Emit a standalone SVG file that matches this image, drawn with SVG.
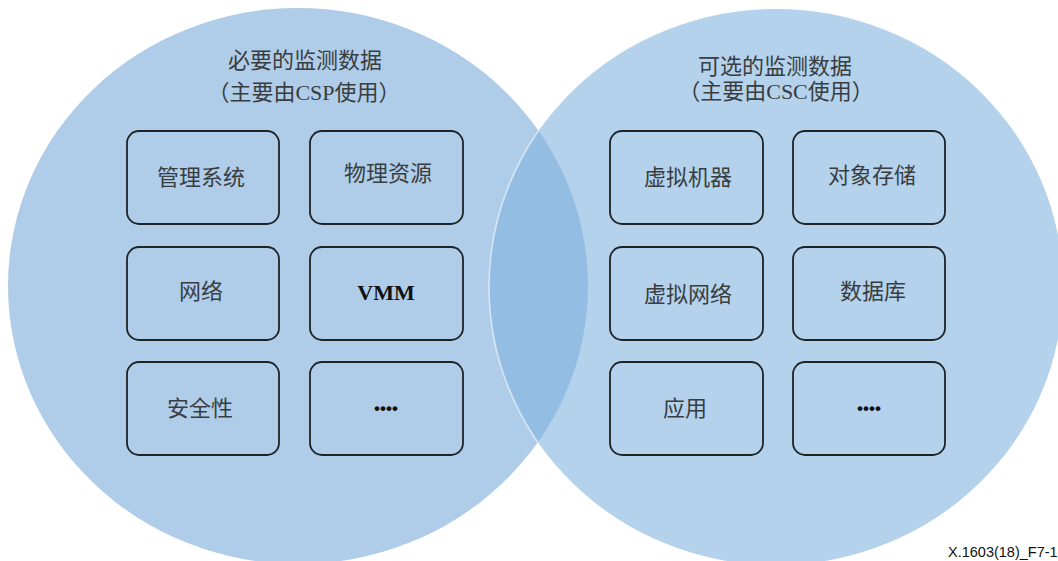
<svg xmlns="http://www.w3.org/2000/svg" width="1058" height="561" viewBox="0 0 1058 561">
<style>
.box{fill:none;stroke:#1f2326;stroke-width:1.8}
.t{font-family:"Liberation Serif","Noto Sans CJK SC",serif;font-size:22px;fill:#3a3d40;text-anchor:middle}
.h{font-family:"Liberation Serif","Noto Sans CJK SC",serif;font-size:22px;fill:#3a3d40;text-anchor:middle}
.b{font-family:"Liberation Serif","Noto Sans CJK SC",serif;font-size:22px;font-weight:bold;fill:#111;text-anchor:middle}
.d{font-family:"Liberation Sans",sans-serif;font-size:17px;font-weight:bold;fill:#111;text-anchor:middle}
</style>
<defs>
<clipPath id="leftClip"><ellipse cx="298" cy="286" rx="290" ry="278"/></clipPath>
</defs>
<g id="sets">
<ellipse id="left-set" cx="298" cy="286" rx="290" ry="278" fill="#AFCDE9"/>
<ellipse id="right-set" cx="776" cy="287" rx="287" ry="278" fill="#B4D2EC"/>
<ellipse cx="776" cy="287" rx="287" ry="278" fill="#94BDE3" clip-path="url(#leftClip)"/>
<ellipse cx="776" cy="287" rx="287" ry="278" fill="none" stroke="#ffffff" stroke-opacity="0.55" stroke-width="1.6" clip-path="url(#leftClip)"/>
</g>
<g id="titles">
<text class="h" x="305" y="68">必要的监测数据</text>
<text class="h" x="304" y="100">（主要由CSP使用）</text>
<text class="h" x="775" y="74">可选的监测数据</text>
<text class="h" x="776" y="99">（主要由CSC使用）</text>
</g>
<g id="n1"><rect class="box" x="127" y="131" width="152" height="93" rx="12"/><text class="t" x="201" y="185">管理系统</text></g>
<g id="n2"><rect class="box" x="310" y="131" width="153" height="93" rx="12"/><text class="t" x="388" y="181">物理资源</text></g>
<g id="n3"><rect class="box" x="127" y="247" width="152" height="93" rx="12"/><text class="t" x="201" y="299">网络</text></g>
<g id="n4"><rect class="box" x="310" y="247" width="153" height="93" rx="12"/><text class="b" x="386" y="300">VMM</text></g>
<g id="n5"><rect class="box" x="127" y="362" width="152" height="93" rx="12"/><text class="t" x="200" y="416">安全性</text></g>
<g id="n6"><rect class="box" x="310" y="362" width="153" height="93" rx="12"/><text class="d" x="386" y="414">••••</text></g>
<g id="n7"><rect class="box" x="610" y="131" width="153" height="93" rx="12"/><text class="t" x="688" y="185">虚拟机器</text></g>
<g id="n8"><rect class="box" x="793" y="131" width="152" height="93" rx="12"/><text class="t" x="872" y="183">对象存储</text></g>
<g id="n9"><rect class="box" x="610" y="247" width="153" height="93" rx="12"/><text class="t" x="688" y="302">虚拟网络</text></g>
<g id="n10"><rect class="box" x="793" y="247" width="152" height="93" rx="12"/><text class="t" x="873" y="299">数据库</text></g>
<g id="n11"><rect class="box" x="610" y="362" width="153" height="93" rx="12"/><text class="t" x="685" y="416">应用</text></g>
<g id="n12"><rect class="box" x="793" y="362" width="152" height="93" rx="12"/><text class="d" x="869" y="414">••••</text></g>
<g id="connectors"></g>
<text x="948" y="557" font-family="Liberation Sans,sans-serif" font-size="14.5" fill="#111">X.1603(18)_F7-1</text>
</svg>
